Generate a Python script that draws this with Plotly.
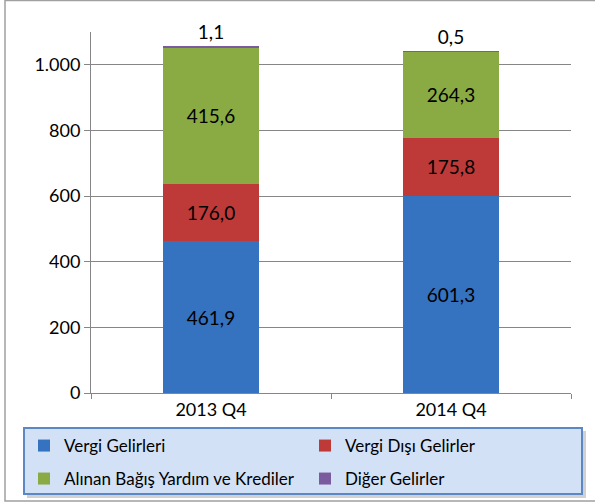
import plotly.graph_objects as go

categories = ["2013 Q4", "2014 Q4"]
series_names = ["Vergi Gelirleri", "Vergi Dışı Gelirler", "Alınan Bağış Yardım ve Krediler", "Diğer Gelirler"]
vergi = [461.9, 601.3]
vergi_disi = [176.0, 175.8]
bagis = [415.6, 264.3]
diger = [1.1, 0.5]
y_ticks = [0, 200, 400, 600, 800, 1000]

colors = ["#3572c0", "#bd3a38", "#8aab44", "#7a5c9e"]
legend_ids = ["legend", "legend", "legend2", "legend2"]
FONT = "Lato"

W, H = 595, 504
L, R, T, B = 91, 24, 32, 111
pw, ph = W - L - R, H - T - B

def px2x(px):
    return (px - L) / pw

def px2y(py):
    return (H - B - py) / ph

fig = go.Figure()
for name, vals, col, lg in zip(series_names, [vergi, vergi_disi, bagis, diger], colors, legend_ids):
    last = name == series_names[-1]
    fig.add_trace(go.Bar(
        x=categories, y=vals, name=name,
        marker=dict(color=col, line=dict(width=0)),
        width=0.4,
        texttemplate="%{y:.1f}",
        textposition="outside" if last else "inside",
        insidetextanchor="middle",
        textfont=dict(family=FONT, size=19, color="#000000"),
        constraintext="none",
        cliponaxis=False,
        legend=lg,
    ))

legend_common = dict(
    orientation="h",
    x=px2x(24), xanchor="left", yanchor="top",
    bgcolor="rgba(0,0,0,0)", borderwidth=0,
    font=dict(family=FONT, size=17, color="#000000"),
    entrywidth=236, entrywidthmode="pixels",
    itemwidth=30,
    traceorder="normal",
)

fig.update_layout(
    width=W, height=H,
    margin=dict(l=L, r=R, t=T, b=B, pad=0, autoexpand=False),
    barmode="stack",
    separators=",.",
    paper_bgcolor="white", plot_bgcolor="white",
    font=dict(family=FONT, size=18, color="#000000"),
    showlegend=True,
    legend=dict(legend_common, y=px2y(428)),
    legend2=dict(legend_common, y=px2y(461)),
    xaxis=dict(
        showline=True, linecolor="#868686", linewidth=1,
        ticks="outside", tickson="boundaries", ticklen=5, tickcolor="#868686",
        tickfont=dict(family=FONT, size=18),
        showgrid=False, fixedrange=True,
    ),
    yaxis=dict(
        range=[0, 1100], tickvals=y_ticks, tickformat=",d",
        showline=True, linecolor="#868686", linewidth=1,
        ticks="outside", ticklen=6, tickcolor="#868686",
        showgrid=True, gridcolor="#868686", gridwidth=1,
        zeroline=False,
        tickfont=dict(family=FONT, size=18),
        fixedrange=True,
    ),
    shapes=[
        dict(type="rect", xref="paper", yref="paper",
             x0=px2x(5), x1=px2x(600), y0=px2y(501), y1=px2y(0.5),
             line=dict(color="#a0a0a0", width=1.5), layer="below"),
        dict(type="rect", xref="paper", yref="paper",
             x0=px2x(27), x1=px2x(586), y0=px2y(498), y1=px2y(431),
             line=dict(width=0), fillcolor="rgba(0,0,0,0.18)", layer="above"),
        dict(type="rect", xref="paper", yref="paper",
             x0=px2x(24), x1=px2x(582), y0=px2y(494), y1=px2y(428),
             line=dict(color="#5b87c5", width=2), fillcolor="#d3e1f7", layer="above"),
    ],
)

fig.write_html(
    "out.html",
    config={"displayModeBar": False},
    post_script="document.body.style.margin='0';document.body.style.padding='0';",
)
